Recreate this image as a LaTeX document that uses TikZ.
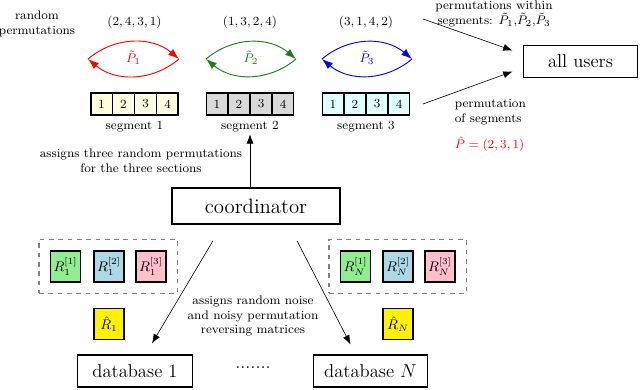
\documentclass[tikz,border=0pt]{standalone}
\usetikzlibrary{arrows.meta, positioning, fit, calc, shapes.multipart}
\definecolor{segA}{HTML}{FFFFE0}
\definecolor{segB}{HTML}{D9D9D9}
\definecolor{segC}{HTML}{E0FFFF}
\definecolor{rA}{HTML}{90EE90}
\definecolor{rB}{HTML}{ADD8E6}
\definecolor{rC}{HTML}{FFC0CB}
\definecolor{pgreen}{HTML}{1F7A1F}
\newcommand{\coordfont}{\fontsize{13.4}{15}\selectfont}
\tikzset{
  box/.style={draw, thick, inner sep=0pt, font=\large, minimum width=74pt, minimum height=20.6pt},
  seg/.style={draw, thick, rectangle split, rectangle split horizontal, rectangle split parts=4,
    font=\footnotesize, inner xsep=4.6pt, inner ysep=4.3pt, text height=5.5pt, text depth=0pt},
  rb/.style={draw, thick, minimum width=19.4pt, minimum height=20pt, inner sep=0pt, font=\small},
  lbl/.style={font=\footnotesize, align=center, inner sep=1pt},
  a/.style={-{Latex[length=6pt, width=4.5pt]}, thin},
  pa/.style={-{Latex[length=7pt, width=5pt]}, semithick},
  grp/.style={draw=gray, dashed, thick, inner sep=7pt},
}
\begin{document}
\begin{tikzpicture}[x=0.645pt, y=-0.645pt]
\useasboundingbox (0,0) rectangle (640,389);

% segments and their permutations
\node[lbl] (rnd) at (37,24) {random\\permutations};
\node[lbl] (p1) at (134.5,22) {$(2,4,3,1)$};
\node[lbl] (p2) at (250,22)   {$(1,3,2,4)$};
\node[lbl] (p3) at (366,22)   {$(3,1,4,2)$};

\node[seg, fill=segA] (seg1) at (134.5,104) {1\nodepart{two}2\nodepart{three}3\nodepart{four}4};
\node[seg, fill=segB] (seg2) at (250,104)   {1\nodepart{two}2\nodepart{three}3\nodepart{four}4};
\node[seg, fill=segC] (seg3) at (366,104)   {1\nodepart{two}2\nodepart{three}3\nodepart{four}4};
\node[lbl] (s1) at (134.5,127) {segment 1};
\node[lbl] (s2) at (250,127)   {segment 2};
\node[lbl] (s3) at (366,127)   {segment 3};

\coordinate (l1) at (88,59);  \coordinate (r1) at (179,59);
\coordinate (l2) at (206,59); \coordinate (r2) at (296,59);
\coordinate (l3) at (322,59); \coordinate (r3) at (412,59);
\draw[pa, red]    (l1) to[bend left=40] (r1);
\draw[pa, red]    (r1) to[bend left=40] (l1);
\draw[pa, pgreen] (l2) to[bend left=40] (r2);
\draw[pa, pgreen] (r2) to[bend left=40] (l2);
\draw[pa, blue]   (l3) to[bend left=40] (r3);
\draw[pa, blue]   (r3) to[bend left=40] (l3);
\node[lbl, text=red]    (t1) at (133.5,58) {$\tilde{P}_1$};
\node[lbl, text=pgreen] (t2) at (251,58)   {$\tilde{P}_2$};
\node[lbl, text=blue]   (t3) at (367,58)   {$\tilde{P}_3$};

% coordinator and users
\node[box, very thick, font=\coordfont, minimum width=108pt, minimum height=23pt] (coord) at (256,206) {coordinator};
\node[box] (users) at (580.5,61.5) {all users};
\draw[a] (s2.south |- coord.north) -- (s2.south);
\node[lbl] (asg) at (141,161) {assigns three random permutations\\for the three sections};

\coordinate (w1) at (423,19);
\coordinate (w2) at (423,104);
\draw[a] (w1) -- ($(users.west)+(-10,-11)$);
\draw[a] (w2) -- ($(users.west)+(-10,10)$);
\node[lbl] (within) at (494,14) {permutations within\\segments: $\tilde{P}_1$,$\tilde{P}_2$,$\tilde{P}_3$};
\node[lbl, align=left, anchor=west] (ofseg) at (453,112) {permutation\\of segments};
\node[lbl, anchor=west, text=red] (phat) at (453,144) {$\hat{P}=(2,3,1)$};

% databases
\node[rb, fill=rA] (r11) at (65.5,266.5) {$R_1^{[1]}$};
\node[rb, fill=rB] (r12) at (109,266.5)  {$R_1^{[2]}$};
\node[rb, fill=rC] (r13) at (151,266.5)  {$R_1^{[3]}$};
\node[grp, fit=(r11) (r13)] (g1) {};
\node[rb, fill=yellow] (rh1) at (109,324) {$\hat{R}_1$};

\node[rb, fill=rA] (rn1) at (355.5,266.5) {$R_N^{[1]}$};
\node[rb, fill=rB] (rn2) at (398,266.5)   {$R_N^{[2]}$};
\node[rb, fill=rC] (rn3) at (440,266.5)   {$R_N^{[3]}$};
\node[grp, fit=(rn1) (rn3)] (gN) {};
\node[rb, fill=yellow] (rhN) at (398,324) {$\hat{R}_N$};

\node[box] (db1) at (135,371)   {database 1};
\node[box] (dbN) at (370.5,371) {database $N$};
\node[font=\large, inner sep=0pt] (dots) at (253,368) {.......};

\draw[a] ($(coord.south)+(-43,16)$) -- ($(db1.north)+(17,-11)$);
\draw[a] ($(coord.south)+(41,16)$)  -- ($(dbN.north)+(-20,-10)$);
\node[lbl] (noise) at (253,316) {assigns random noise\\and noisy permutation\\reversing matrices};
\end{tikzpicture}
\end{document}
